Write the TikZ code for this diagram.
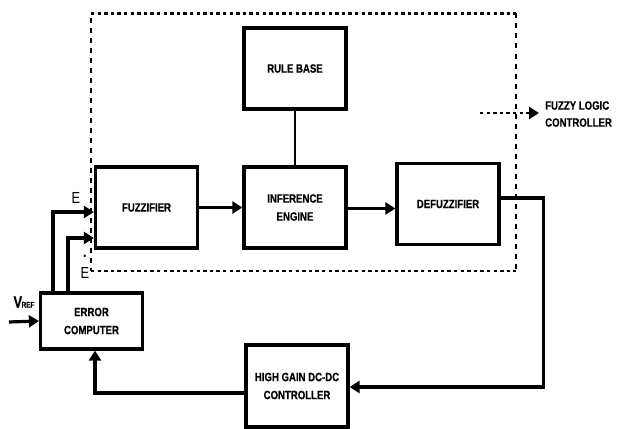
\documentclass[tikz,border=0pt]{standalone}
\usepackage{fontspec}
\setmainfont{Liberation Sans}
\newfontfamily\narrowfont[FakeStretch=0.8]{Liberation Sans}
\newfontfamily\boxfont[FakeStretch=0.8,FakeBold=0.6]{Liberation Sans Bold}
\usetikzlibrary{arrows.meta}
\usetikzlibrary{positioning}
\tikzset{
  block/.style={draw=black, line width=3.2pt, minimum width=102pt, minimum height=81pt,
    align=center, font=\boxfont\fontsize{12}{18}\selectfont},
  flow-line/.style={line width=3.2pt, -{Triangle[length=10pt,width=12pt]}},
  dot-h/.style={line width=2.9pt, dash pattern=on 3.3pt off 3.3pt},
  dot-v/.style={line width=2.9pt, dash pattern=on 5pt off 5pt},
  signal/.style={font=\narrowfont\fontsize{16}{18}\selectfont, inner sep=0pt}
}

\begin{document}
\begin{tikzpicture}[x=1pt, y=-1pt]
\useasboundingbox (0,0) rectangle (617,428);
% controller boundary
\draw[dot-h] (91,13.5) -- (516,13.5);
\draw[dot-h] (91,271) -- (516,271);
\draw[dot-v] (91,18) -- (91,271);
\draw[dot-v] (516,13.5) -- (516,271);
% blocks
\node[block] (rule) at (295,68.5) {RULE BASE};
\node[block] (fuzz) at (146.5,207.5) {FUZZIFIER};
\node[block] (infer) at (295,207.5) {INFERENCE\\ENGINE};
\node[block] (defuzz) at (448,204) {DEFUZZIFIER};
\node[block, minimum height=56pt] (err) at (91.5,321) {ERROR\\COMPUTER};
\node[block, minimum height=82pt] (hg) at (297,386) {HIGH GAIN DC-DC\\CONTROLLER};
% labels
\coordinate (vin) at (9,322);
\node[signal, font=\boxfont\fontsize{16}{18}\selectfont] (vref) at (24,302)
  {V\kern-0.5pt{\fontsize{8}{8}\selectfont REF}};
\node[signal] (e1) at (76,198) {E};
\node[signal, align=center] (e2) at (85,267) {\textbf{.}\\[3pt]E};
\coordinate (leg-a) at (480,113);
\coordinate (leg-b) at (539,113);
\node[anchor=west, align=left, inner sep=0pt,
  font=\boxfont\fontsize{12}{17}\selectfont] (legend) at (545,114)
  {FUZZY LOGIC\\CONTROLLER};
% connections
\draw[line width=2.2pt] (rule) -- (infer);
\draw[flow-line] (fuzz) -- (fuzz -| infer.west);
\draw[flow-line] ([yshift=-1pt]infer.east) -- ([yshift=-1pt]infer.east -| defuzz.west);
\draw[flow-line] ([yshift=6pt]defuzz.east) -- ++(43,0) |- ([yshift=-1pt]hg.east);
\draw[flow-line] ([yshift=-7pt]hg.west) -| ([xshift=3.5pt]err.south);
\draw[flow-line] (vin) -- (err.west);
\draw[flow-line] ([xshift=-38.5pt]err.north) |- ([yshift=-4.5pt]fuzz.west);
\draw[flow-line] ([xshift=-23.5pt]err.north) |- ([yshift=-30.5pt]fuzz.west);
\draw[dot-h, -{Triangle[length=10pt,width=12pt]}] (leg-a) -- (leg-b);
\end{tikzpicture}
\end{document}
